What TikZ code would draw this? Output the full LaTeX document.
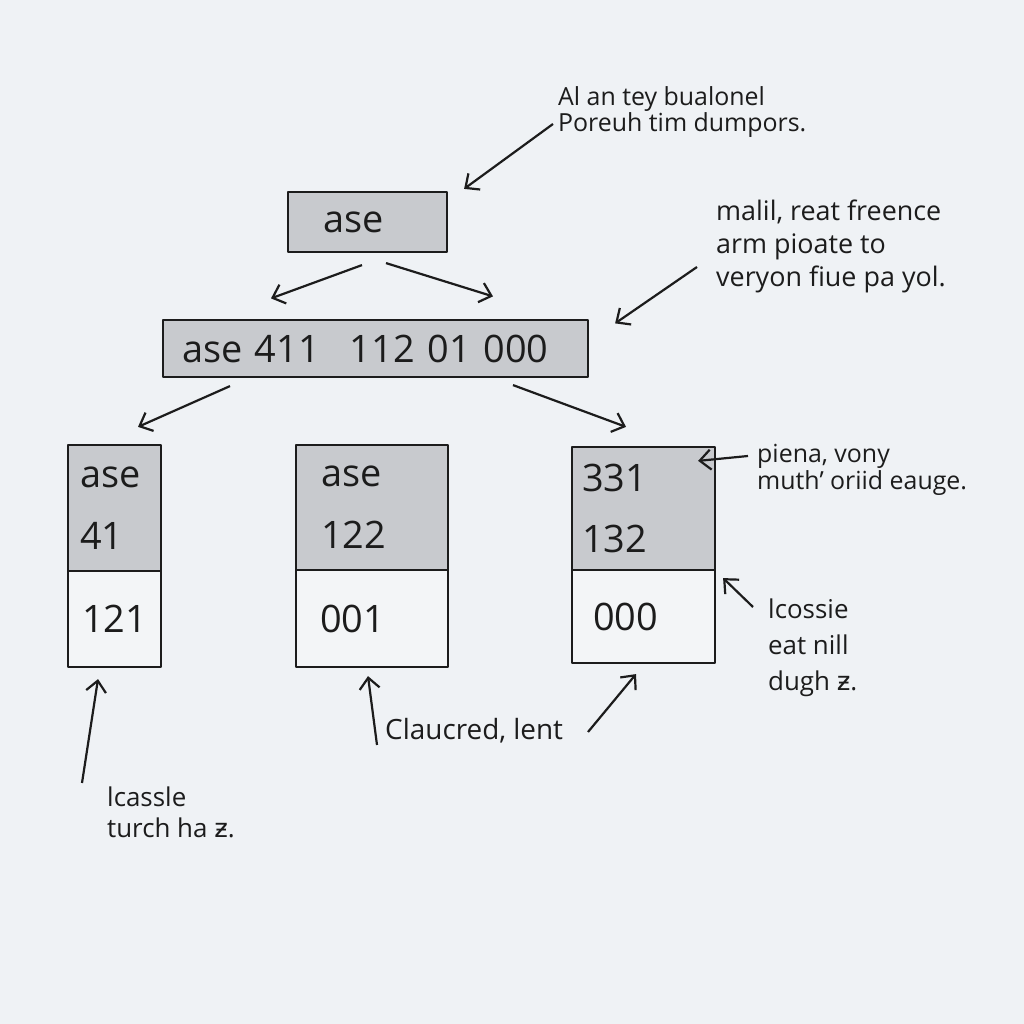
\documentclass[tikz,border=0pt]{standalone}
\usepackage{fontspec}
\setmainfont{Open Sans}
\newfontfamily\symfont{DejaVu Sans}
\usetikzlibrary{arrows.meta}
\definecolor{bgpaper}{HTML}{EFF2F5}
\definecolor{cellgray}{HTML}{C8CACE}
\definecolor{cellwhite}{HTML}{F3F5F7}
\definecolor{ink}{HTML}{1C1C1C}
\begin{document}
\begin{tikzpicture}[>={Straight Barb[length=11bp,width=20bp]},line join=bevel,
  box/.style={draw=ink,line width=2.2bp,fill=cellgray,inner sep=0pt,align=left,text=ink,font=\fontsize{38}{62}\selectfont},
  lowcell/.style={box,fill=cellwhite},
  note/.style={anchor=west,align=left,inner sep=0pt,text=ink},
  link/.style={draw=ink,line width=2.2bp,->}]
%%
\fill [bgpaper] (0bp,0bp) rectangle (1024bp,1024bp);
\useasboundingbox (0bp,0bp) rectangle (1024bp,1024bp);
\node (node_top) at (367.5bp,802bp) [box,minimum width=159bp,minimum height=60bp,text width=89bp] {ase};
  \node (node_wide) at (375.5bp,675.5bp) [box,minimum width=425bp,minimum height=57bp,text width=387bp] {ase 411\hspace{30bp}112 01 000};
  \node (node_lt) at (114.5bp,516bp) [box,minimum width=93bp,minimum height=126bp,text width=69bp] {ase\\41};
  \node (node_lb) at (114.5bp,405bp) [lowcell,minimum width=93bp,minimum height=96bp,text width=65bp] {121};
  \node (node_mt) at (372bp,516.5bp) [box,minimum width=152bp,minimum height=125bp,text width=102bp] {ase\\122};
  \node (node_mb) at (372bp,405.5bp) [lowcell,minimum width=152bp,minimum height=97bp,text width=104bp] {001};
  \node (node_rt) at (643.5bp,515.5bp) [box,minimum width=143bp,minimum height=123bp,text width=123bp] {331\\132};
  \node (node_rb) at (643.5bp,407.5bp) [lowcell,minimum width=143bp,minimum height=93bp,text width=101bp] {000};
%
\node (note_top) at (558bp,912bp) [note,font=\fontsize{25}{27}\selectfont] {Al an tey bualonel\\Poreuh tim dumpors.};
  \node (note_ref) at (716bp,777.5bp) [note,font=\fontsize{27}{33}\selectfont] {malil, reat freence\\arm pioate to\\veryon fiue pa yol.};
  \node (note_seg) at (757bp,554bp) [note,font=\fontsize{25}{27}\selectfont] {piena, vony\\muth' oriid eauge.};
  \node (note_free) at (768bp,376bp) [note,font=\fontsize{26}{36}\selectfont] {lcossie\\eat nill\\dugh {\symfont ƶ}.};
  \node (note_bal) at (385bp,293bp) [note,font=\fontsize{28}{30}\selectfont] {Claucred, lent};
  \node (note_leaf) at (107bp,211.5bp) [note,font=\fontsize{26}{31}\selectfont] {lcassle\\turch ha {\symfont ƶ}.};
%
\coordinate (tail_top) at (553bp,900bp);
  \coordinate (tail_ref) at (697bp,757bp);
  \coordinate (tail_seg) at (748bp,568bp);
  \coordinate (tail_free) at (753bp,417bp);
  \coordinate (tail_leaf) at (82bp,241bp);
  \coordinate (tail_bal_l) at (377bp,279bp);
  \coordinate (tail_bal_r) at (588bp,292bp);
%
\draw [link] ([shift={(-5.5bp,-12bp)}]node_top.south) -- ([shift={(-104.5bp,20.5bp)}]node_wide.north);
  \draw [link] ([shift={(18.5bp,-10bp)}]node_top.south) -- ([shift={(117.5bp,22.5bp)}]node_wide.north);
  \draw [link] ([shift={(-145.5bp,-8bp)}]node_wide.south) -- ([shift={(23.5bp,17bp)}]node_lt.north);
  \draw [link] ([shift={(137.5bp,-7bp)}]node_wide.south) -- ([shift={(-17.5bp,19bp)}]node_rt.north);
  \draw [link] (tail_top) -- ([shift={(16bp,2bp)}]node_top.north east);
  \draw [link] (tail_ref) -- ([shift={(26bp,-4.5bp)}]node_wide.north east);
  \draw [link] (tail_seg) -- ([shift={(-18bp,-15bp)}]node_rt.north east);
  \draw [link] (tail_free) -- ([shift={(7bp,-7bp)}]node_rt.south east);
  \draw [link] (tail_leaf) -- ([shift={(-16.5bp,-11bp)}]node_lb.south);
  \draw [link] (tail_bal_l) -- ([shift={(-4bp,-8bp)}]node_mb.south);
  \draw [link] (tail_bal_r) -- ([shift={(-7.5bp,-10bp)}]node_rb.south);
%
\end{tikzpicture}
\end{document}
